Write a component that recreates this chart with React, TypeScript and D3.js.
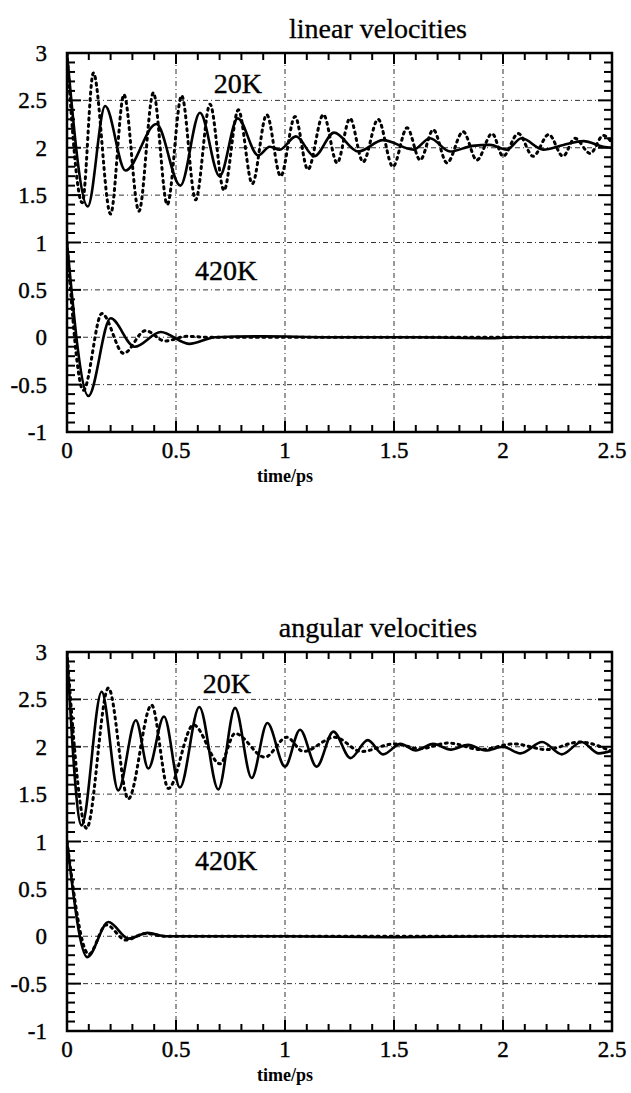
import React from 'react';
import * as d3 from 'd3';

// ---------- data ----------
const xTickValues = [0, 0.5, 1, 1.5, 2, 2.5];
const xTickLabels = ['0', '0.5', '1', '1.5', '2', '2.5'];
const yTickValues = [3, 2.5, 2, 1.5, 1, 0.5, 0, -0.5, -1];
const yTickLabels = ['3', '2.5', '2', '1.5', '1', '0.5', '0', '-0.5', '-1'];
const panelTitles = ['linear velocities', 'angular velocities'];
const xAxisTitle = 'time/ps';
const seriesLabels = ['20K', '420K'];

// linear velocities, 20K (offset by 2)
const linear20Solid: [number, number][] = [
  [0, 3], [0.095, 1.38], [0.175, 2.44], [0.268, 1.76], [0.41, 2.25], [0.52, 1.6],
  [0.61, 2.37], [0.70, 1.70], [0.783, 2.31], [0.877, 1.92], [0.93, 2.01], [0.976, 1.98],
  [1.05, 2.12], [1.135, 1.91], [1.225, 2.16], [1.336, 1.96], [1.45, 2.08], [1.59, 1.98],
  [1.665, 2.10], [1.757, 1.96], [1.86, 2.02], [1.94, 2.03], [2.017, 1.98], [2.085, 2.10],
  [2.185, 1.98], [2.277, 2.03], [2.37, 2.07], [2.46, 2.01], [2.5, 2.0],
];
const linear20Dotted: [number, number][] = [
  [0, 3], [0.07, 1.42], [0.121, 2.79], [0.2, 1.3], [0.261, 2.56], [0.33, 1.33],
  [0.396, 2.58], [0.46, 1.4], [0.526, 2.55], [0.59, 1.45], [0.656, 2.46], [0.72, 1.55],
  [0.786, 2.40], [0.85, 1.62], [0.916, 2.35], [0.98, 1.70], [1.046, 2.33], [1.105, 1.77],
  [1.176, 2.35], [1.239, 1.84], [1.298, 2.31], [1.358, 1.85], [1.427, 2.30], [1.495, 1.80],
  [1.56, 2.21], [1.62, 1.87], [1.68, 2.19], [1.743, 1.84], [1.817, 2.17], [1.88, 1.87],
  [1.95, 2.15], [2.0, 1.91], [2.07, 2.15], [2.138, 1.91], [2.21, 2.14], [2.275, 1.91],
  [2.33, 2.10], [2.40, 1.94], [2.46, 2.13], [2.5, 2.05],
];
// linear velocities, 420K
const linear420Solid: [number, number][] = [
  [0, 1], [0.098, -0.62], [0.2, 0.2], [0.31, -0.1], [0.43, 0.055], [0.56, -0.07],
  [0.68, 0.0], [0.9, 0.01], [1.2, 0.0], [1.6, 0.0], [1.95, -0.01], [2.05, 0.0], [2.5, 0.0],
];
const linear420Dotted: [number, number][] = [
  [0, 1], [0.075, -0.56], [0.16, 0.25], [0.26, -0.17], [0.36, 0.07], [0.45, -0.04],
  [0.55, 0.01], [0.65, 0.0], [2.5, 0.0],
];
// angular velocities, 20K (offset by 2)
const angular20Solid: [number, number][] = [
  [0, 3], [0.067, 1.17], [0.159, 2.58], [0.235, 1.54], [0.316, 2.28], [0.373, 1.77],
  [0.445, 2.32], [0.518, 1.57], [0.607, 2.42], [0.694, 1.55], [0.771, 2.41], [0.847, 1.67],
  [0.919, 2.25], [1.0, 1.79], [1.069, 2.18], [1.145, 1.79], [1.222, 2.16], [1.3, 1.88],
  [1.38, 2.07], [1.45, 1.92], [1.53, 2.03], [1.6, 1.96], [1.68, 2.03], [1.76, 1.97],
  [1.84, 2.02], [1.92, 1.96], [2.0, 2.0], [2.08, 1.93], [2.18, 2.05], [2.27, 1.92],
  [2.36, 2.05], [2.44, 1.93], [2.5, 1.96],
];
const angular20Dotted: [number, number][] = [
  [0, 3], [0.09, 1.14], [0.19, 2.62], [0.281, 1.45], [0.388, 2.44], [0.465, 1.56],
  [0.58, 2.23], [0.702, 1.82], [0.771, 2.14], [0.908, 1.89], [1.008, 2.1], [1.084, 1.95],
  [1.229, 2.1], [1.35, 1.95], [1.5, 2.03], [1.62, 1.98], [1.75, 2.04], [1.9, 1.97],
  [2.05, 2.03], [2.2, 1.97], [2.35, 2.05], [2.5, 1.95],
];
// angular velocities, 420K
const angular420Solid: [number, number][] = [
  [0, 1], [0.093, -0.22], [0.19, 0.15], [0.283, -0.025], [0.37, 0.036], [0.45, 0.0],
  [0.7, 0.0], [1.0, 0.0], [1.5, -0.01], [2.0, 0.0], [2.5, 0.0],
];
const angular420Dotted: [number, number][] = [
  [0, 1], [0.1, -0.19], [0.18, 0.12], [0.27, -0.04], [0.36, 0.03], [0.45, 0.0], [2.5, 0.0],
];

// ---------- layout ----------
const W = 631;
const H = 1093;
const FRAME_LEFT = 67;
const FRAME_RIGHT = 612;
const FRAME_H = 379;
const FONT = '"Liberation Serif", "DejaVu Serif", "Times New Roman", serif';

type PanelProps = {
  top: number;
  title: string;
  solids: [number, number][][];
  dotted: [number, number][][];
  labelPos: [number, number][];
};

function Panel({ top, title, solids, dotted, labelPos }: PanelProps) {
  const x = d3.scaleLinear().domain([0, 2.5]).range([FRAME_LEFT, FRAME_RIGHT]);
  const y = d3.scaleLinear().domain([-1, 3]).range([top + FRAME_H, top]);
  const line = d3
    .line<[number, number]>()
    .x((d) => x(d[0]))
    .y((d) => y(d[1]))
    .curve(d3.curveMonotoneX);

  const minorX = d3.range(0, 2.5001, 0.1);
  const minorY = d3.range(-1, 3.0001, 0.1);
  const isMajor = (v: number) => Math.abs(v * 2 - Math.round(v * 2)) < 1e-6;
  const bottom = top + FRAME_H;
  const textStyle = { fontFamily: FONT };

  return (
    <g>
      <defs>
        <clipPath id={`clip${top}`}>
          <rect x={FRAME_LEFT} y={top} width={FRAME_RIGHT - FRAME_LEFT} height={FRAME_H} />
        </clipPath>
      </defs>
      <text x={378} y={top - 25} textAnchor="middle" dy="0.35em" fontSize={28}
        stroke="#000" strokeWidth={0.3} style={textStyle}>
        {title}
      </text>
      {/* grid */}
      {xTickValues.slice(1, -1).map((v) => (
        <line key={`gx${v}`} x1={x(v)} x2={x(v)} y1={top} y2={bottom}
          stroke="#333" strokeWidth={1} strokeDasharray="1,3,5,3" />
      ))}
      {yTickValues.slice(1, -1).map((v) => (
        <line key={`gy${v}`} x1={FRAME_LEFT} x2={FRAME_RIGHT} y1={y(v)} y2={y(v)}
          stroke="#333" strokeWidth={1} strokeDasharray="1,3,5,3" />
      ))}
      {/* ticks */}
      {minorX.map((v, i) => {
        const len = isMajor(v) ? 11 : 7;
        return (
          <g key={`tx${i}`}>
            <line x1={x(v)} x2={x(v)} y1={top} y2={top + len} stroke="#000" strokeWidth={2} />
            <line x1={x(v)} x2={x(v)} y1={bottom} y2={bottom - len} stroke="#000" strokeWidth={2} />
          </g>
        );
      })}
      {minorY.map((v, i) => {
        const len = isMajor(v) ? 14 : 8;
        return (
          <g key={`ty${i}`}>
            <line x1={FRAME_LEFT} x2={FRAME_LEFT + len} y1={y(v)} y2={y(v)} stroke="#000" strokeWidth={2} />
            <line x1={FRAME_RIGHT} x2={FRAME_RIGHT - len} y1={y(v)} y2={y(v)} stroke="#000" strokeWidth={2} />
          </g>
        );
      })}
      {/* curves */}
      <g clipPath={`url(#clip${top})`}>
        {dotted.map((d, i) => (
          <path key={`d${i}`} d={line(d) || ''} fill="none" stroke="#000" strokeWidth={3}
            strokeDasharray="2,4.5" strokeLinecap="round" />
        ))}
        {solids.map((d, i) => (
          <path key={`s${i}`} d={line(d) || ''} fill="none" stroke="#000" strokeWidth={2.6}
            strokeLinejoin="round" />
        ))}
      </g>
      {/* frame */}
      <rect x={FRAME_LEFT} y={top} width={FRAME_RIGHT - FRAME_LEFT} height={FRAME_H}
        fill="none" stroke="#000" strokeWidth={2.5} />
      {/* tick labels */}
      {yTickValues.map((v, i) => (
        <text key={`yl${i}`} x={FRAME_LEFT - 20} y={y(v)} dy="0.35em" textAnchor="end"
          fontSize={23} stroke="#000" strokeWidth={0.4} style={textStyle}>
          {yTickLabels[i]}
        </text>
      ))}
      {xTickValues.map((v, i) => (
        <text key={`xl${i}`} x={x(v)} y={bottom + 18} dy="0.35em" textAnchor="middle"
          fontSize={23} stroke="#000" strokeWidth={0.4} style={textStyle}>
          {xTickLabels[i]}
        </text>
      ))}
      <text x={x(1)} y={bottom + 44} dy="0.35em" textAnchor="middle" fontSize={18}
        fontWeight="bold" style={textStyle}>
        {xAxisTitle}
      </text>
      {/* series labels */}
      {labelPos.map((p, i) => (
        <text key={`sl${i}`} x={x(p[0])} y={y(p[1])} dy="0.35em" textAnchor="middle"
          fontSize={28} stroke="#000" strokeWidth={0.4} style={textStyle}>
          {seriesLabels[i]}
        </text>
      ))}
    </g>
  );
}

export default function App() {
  return (
    <svg width={W} height={H} viewBox={`0 0 ${W} ${H}`}
      style={{ position: 'absolute', left: 0, top: 0, display: 'block', background: '#fff' }}>
      <rect x={0} y={0} width={W} height={H} fill="#fff" />
      <Panel
        top={53}
        title={panelTitles[0]}
        solids={[linear20Solid, linear420Solid]}
        dotted={[linear20Dotted, linear420Dotted]}
        labelPos={[[0.784, 2.68], [0.73, 0.71]]}
      />
      <Panel
        top={652}
        title={panelTitles[1]}
        solids={[angular20Solid, angular420Solid]}
        dotted={[angular20Dotted, angular420Dotted]}
        labelPos={[[0.733, 2.67], [0.73, 0.8]]}
      />
    </svg>
  );
}
